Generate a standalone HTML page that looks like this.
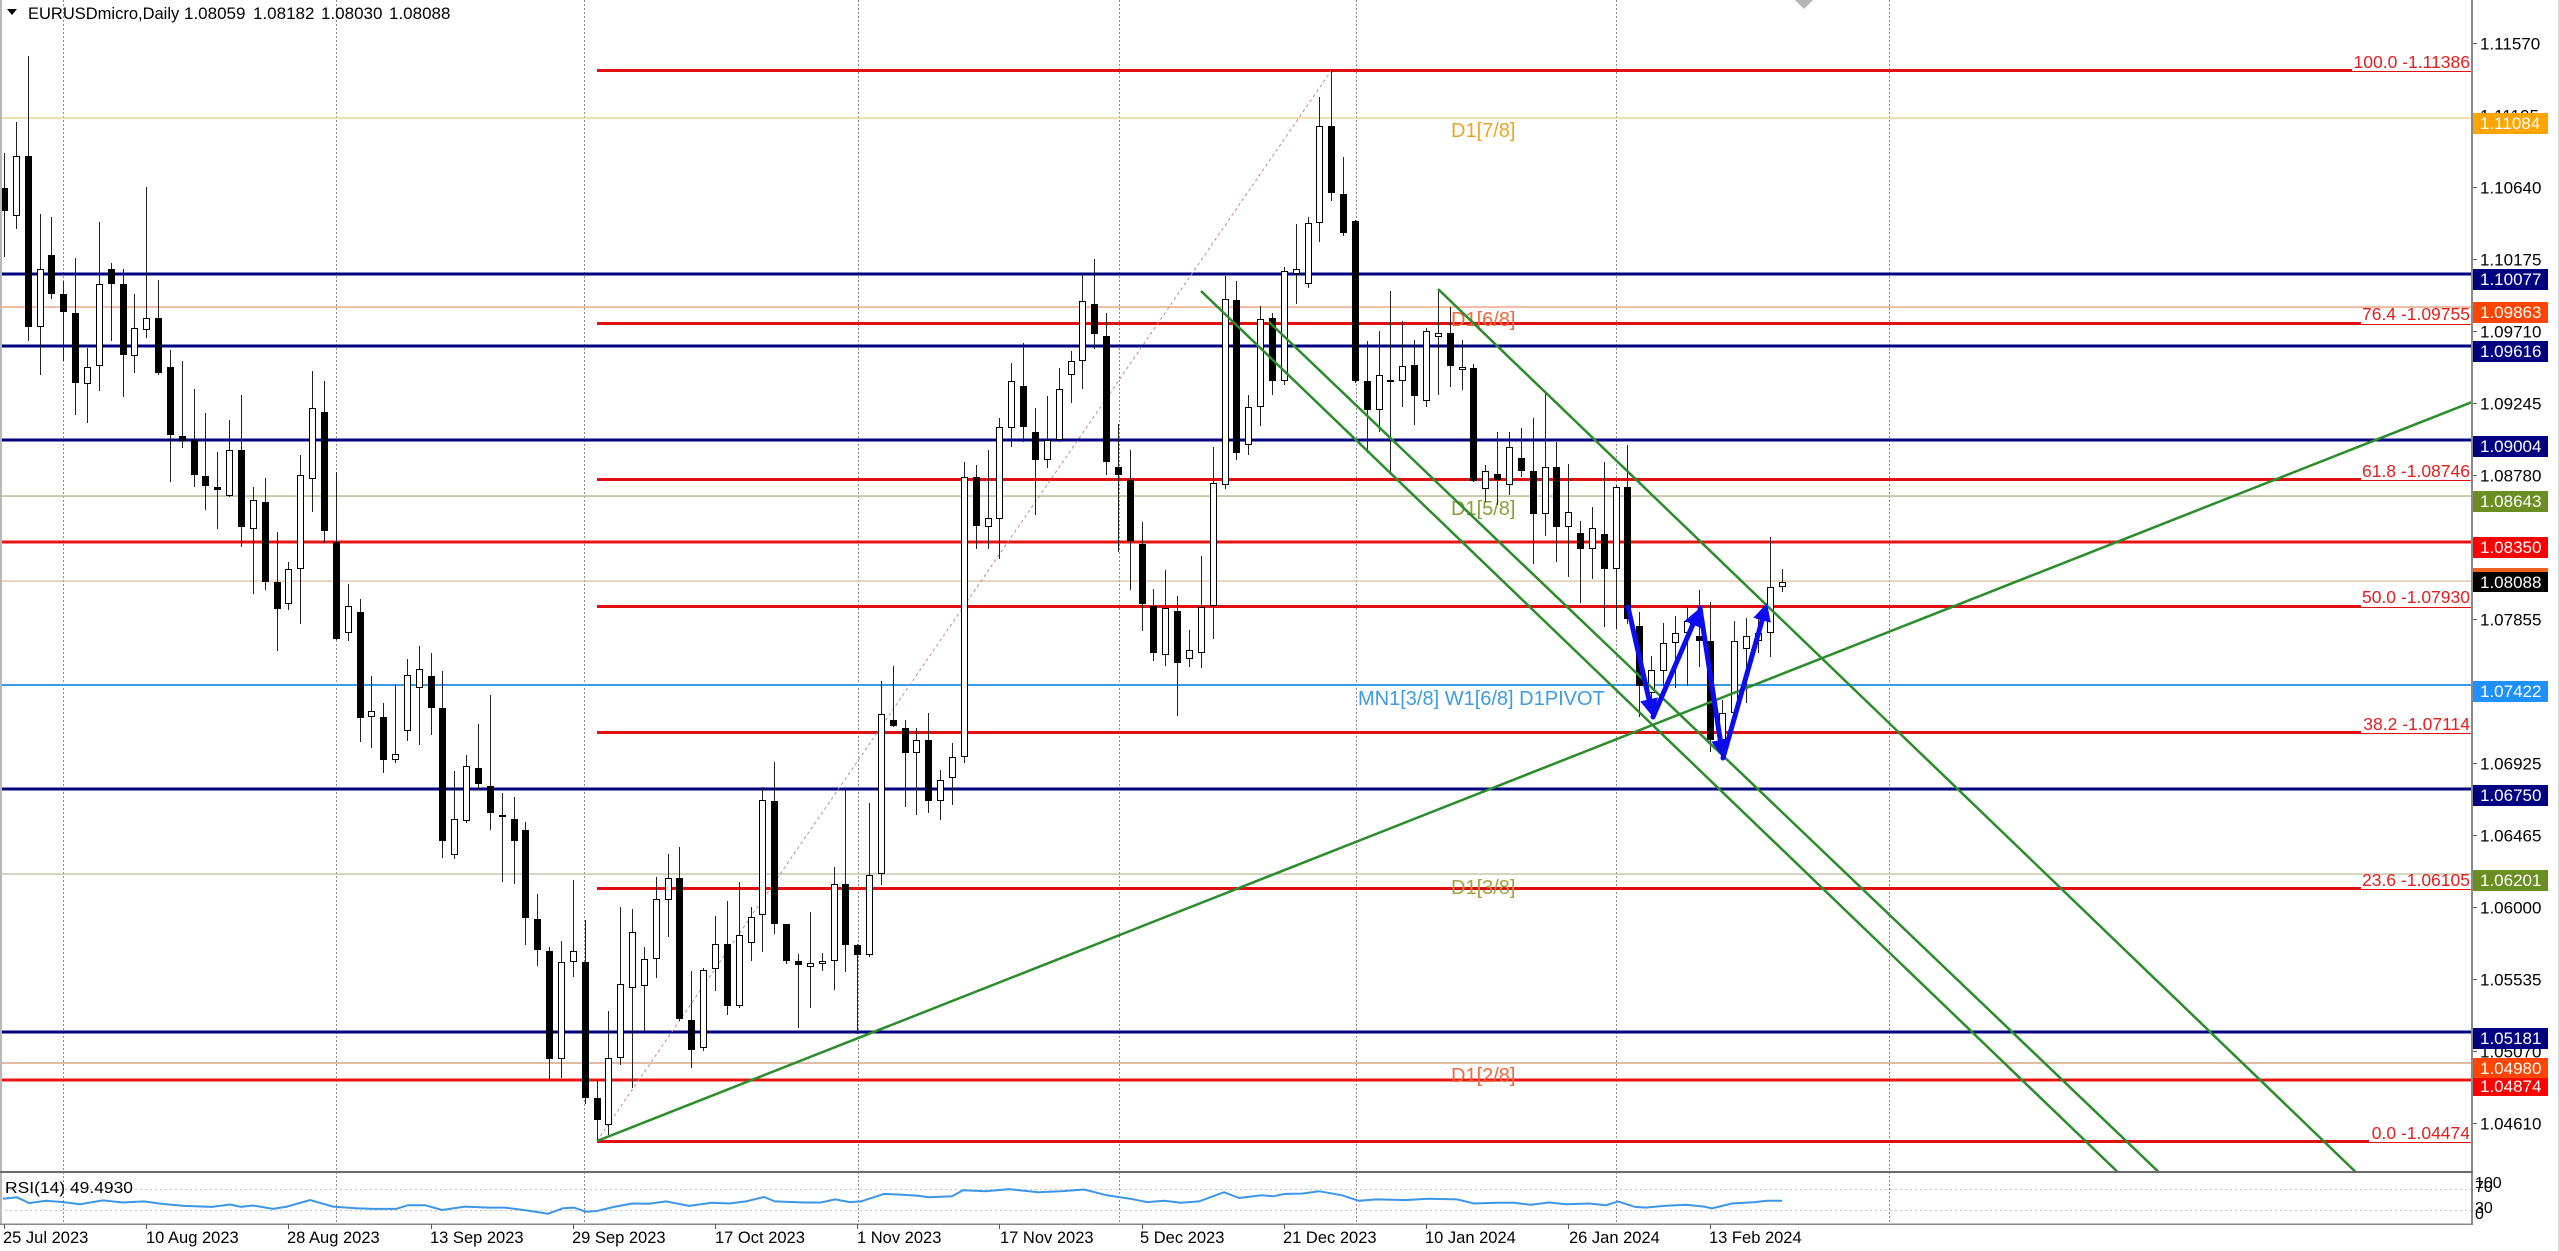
<!DOCTYPE html>
<html><head><meta charset="utf-8"><style>
html,body{margin:0;padding:0;background:#fff;}
svg{display:block;}
text{font-family:"Liberation Sans",Arial,sans-serif;}
</style></head><body>
<svg width="2560" height="1251" viewBox="0 0 2560 1251" xmlns="http://www.w3.org/2000/svg">
<rect width="2560" height="1251" fill="#fff"/>
<defs><clipPath id="c"><rect x="0" y="0" width="2472" height="1171"/></clipPath></defs>

<!-- vertical dashed grid -->
<path d="M63.5 0V1224M336.5 0V1224M584.5 0V1224M858.5 0V1224M1119.5 0V1224M1356.5 0V1224M1616.5 0V1224M1889.5 0V1224" stroke="#8c8c8c" stroke-width="1" stroke-dasharray="2,2" fill="none"/>

<!-- thin horizontal lines -->
<rect x="0" y="117.3" width="2472" height="1.5" fill="#ead592"/>
<rect x="0" y="306.3" width="2472" height="1.5" fill="#eca888"/>
<rect x="0" y="495.3" width="2472" height="1.5" fill="#b8bc90"/>
<rect x="0" y="580.5" width="2472" height="1.2" fill="#e0b898"/>
<rect x="0" y="684" width="2472" height="2" fill="#3a9ae8"/>
<rect x="0" y="873.3" width="2472" height="1.5" fill="#c8c8a8"/>
<rect x="0" y="1062" width="2472" height="2" fill="#e0bca4"/>
<!-- navy lines -->
<g fill="#000080">
<rect x="0" y="272.5" width="2472" height="3"/>
<rect x="0" y="344.5" width="2472" height="3"/>
<rect x="0" y="438.5" width="2472" height="3"/>
<rect x="0" y="787.5" width="2472" height="3"/>
<rect x="0" y="1030.5" width="2472" height="3"/>
</g>
<!-- full red lines -->
<g fill="#e81414">
<rect x="0" y="540.5" width="2472" height="3"/>
<rect x="0" y="1078.5" width="2472" height="3"/>
</g>
<!-- fib levels -->
<g fill="#e01010">
<rect x="597" y="69" width="1755" height="3"/><rect x="2352" y="71" width="120" height="1"/>
<rect x="597" y="322" width="1764" height="3"/><rect x="2361" y="324" width="111" height="1"/>
<rect x="597" y="478" width="1764" height="3"/><rect x="2361" y="480" width="111" height="1"/>
<rect x="597" y="605" width="1764" height="3"/><rect x="2361" y="607" width="111" height="1"/>
<rect x="597" y="731" width="1764" height="3"/><rect x="2361" y="733" width="111" height="1"/>
<rect x="597" y="887" width="1764" height="3"/><rect x="2361" y="889" width="111" height="1"/>
<rect x="597" y="1140" width="1772" height="3"/><rect x="2369" y="1142" width="103" height="1"/>
</g>
<g font-size="17.5" fill="#e02020" text-anchor="end">
<text x="2470" y="68">100.0 -1.11386</text>
<text x="2470" y="320">76.4 -1.09755</text>
<text x="2470" y="477">61.8 -1.08746</text>
<text x="2470" y="603">50.0 -1.07930</text>
<text x="2470" y="730">38.2 -1.07114</text>
<text x="2470" y="886">23.6 -1.06105</text>
<text x="2470" y="1139">0.0 -1.04474</text>
</g>

<!-- fib dotted trend -->
<line x1="597" y1="1141" x2="1331" y2="71" stroke="#c48888" stroke-width="1" stroke-dasharray="3,3"/>

<!-- chart labels -->
<g font-size="20">
<text x="1451" y="137" fill="#e8a628">D1[7/8]</text>
<text x="1451" y="326" fill="#f06a3a">D1[6/8]</text>
<text x="1451" y="515" fill="#8c9c3c">D1[5/8]</text>
<text x="1451" y="894" fill="#a8a040">D1[3/8]</text>
<text x="1451" y="1082" fill="#f06a3a">D1[2/8]</text>
<text x="1358" y="705" fill="#3d9be0">MN1[3/8] W1[6/8] D1PIVOT</text>
</g>

<!-- candles: wicks -->
<path stroke="#222" stroke-width="1" fill="none" d="M4.5 153V257M16.5 122V229M28.5 56V341M40.5 214V375M51.5 217V299M63.5 281V361M75.5 258V415M87.5 348V423M99.5 222V391M111.5 263V341M123.5 269V397M134.5 294V373M146.5 187V338M158.5 280V375M170.5 350V482M182.5 361V448M194.5 389V487M205.5 413V510M217.5 452V529M229.5 420V497M241.5 395V547M253.5 487V594M265.5 478V590M277.5 532V651M288.5 562V610M300.5 455V624M312.5 371V512M324.5 381V543M336.5 472V640M348.5 584V641M360.5 599V742M371.5 676V748M383.5 703V773M395.5 685V763M407.5 659V741M419.5 646V745M431.5 653V735M442.5 671V858M454.5 771V859M466.5 755V823M478.5 724V790M490.5 695V830M502.5 793V882M514.5 797V884M525.5 822V945M537.5 894V966M549.5 947V1079M561.5 941V1078M573.5 880V977M585.5 920V1104M597.5 1080V1142M608.5 1011V1135M620.5 907V1065M632.5 909V1088M644.5 947V1031M656.5 877V978M668.5 854V937M679.5 847V1021M691.5 971V1068M703.5 968V1051M715.5 916V991M727.5 901V1015M739.5 882V1008M751.5 907V961M762.5 787V952M774.5 762V934M786.5 924V964M798.5 954V1028M810.5 912V1008M822.5 953V971M834.5 867V990M845.5 790V972M857.5 944V1034M869.5 803V957M881.5 681V885M893.5 666V727M905.5 720V807M916.5 728V815M928.5 713V813M940.5 770V820M952.5 743V805M964.5 462V763M976.5 465V549M988.5 450V549M999.5 418V559M1011.5 363V447M1023.5 343V442M1035.5 408V515M1047.5 396V468M1059.5 368V442M1071.5 351V403M1082.5 274V389M1094.5 259V349M1106.5 313V475M1118.5 424V552M1130.5 450V590M1142.5 522V631M1153.5 589V661M1165.5 570V666M1177.5 596V716M1189.5 630V667M1201.5 556V668M1213.5 447V639M1225.5 276V489M1236.5 281V460M1248.5 395V455M1260.5 306V426M1272.5 313V395M1284.5 267V385M1296.5 224V304M1308.5 217V288M1319.5 97V242M1331.5 71V201M1343.5 157V236M1355.5 220V383M1367.5 341V453M1379.5 331V432M1390.5 291V475M1402.5 321V407M1414.5 340V425M1426.5 328V407M1438.5 291V395M1450.5 307V387M1462.5 340V390M1473.5 364V482M1485.5 465V502M1497.5 432V505M1509.5 432V495M1521.5 428V477M1533.5 418V564M1545.5 394V536M1556.5 442V562M1568.5 464V577M1580.5 521V603M1592.5 507V579M1604.5 462V627M1616.5 485V629M1627.5 445V624M1639.5 612V717M1651.5 656V716M1663.5 623V686M1675.5 616V688M1687.5 607V686M1699.5 590V667M1710.5 602V752M1722.5 700V757M1734.5 621V723M1746.5 618V703M1758.5 619V653M1770.5 537V657M1782.5 569V592"/>
<!-- black bodies -->
<path fill="#000" d="M1 188h7v23h-7zM25 156h7v171h-7zM48 255h7v39h-7zM60 294h7v18h-7zM72 313h7v70h-7zM108 269h7v15h-7zM120 284h7v71h-7zM155 318h7v55h-7zM167 367h7v68h-7zM179 436h7v5h-7zM191 440h7v35h-7zM202 476h7v10h-7zM214 487h7v3h-7zM238 450h7v77h-7zM262 502h7v80h-7zM274 582h7v27h-7zM321 412h7v119h-7zM333 542h7v97h-7zM357 612h7v106h-7zM380 717h7v43h-7zM428 676h7v32h-7zM439 708h7v133h-7zM475 768h7v16h-7zM487 786h7v27h-7zM499 815h7v2h-7zM511 819h7v22h-7zM522 830h7v88h-7zM534 919h7v31h-7zM546 951h7v108h-7zM582 962h7v136h-7zM594 1098h7v22h-7zM676 878h7v141h-7zM688 1020h7v30h-7zM724 944h7v62h-7zM771 801h7v123h-7zM783 924h7v37h-7zM795 961h7v4h-7zM842 884h7v61h-7zM854 945h7v10h-7zM890 720h7v6h-7zM902 728h7v25h-7zM925 740h7v61h-7zM973 477h7v49h-7zM1020 386h7v41h-7zM1032 432h7v28h-7zM1091 304h7v30h-7zM1103 336h7v126h-7zM1115 467h7v8h-7zM1127 480h7v61h-7zM1139 544h7v60h-7zM1150 606h7v47h-7zM1174 611h7v52h-7zM1233 300h7v153h-7zM1269 318h7v63h-7zM1328 126h7v67h-7zM1340 194h7v39h-7zM1352 221h7v160h-7zM1364 381h7v29h-7zM1387 380h7v2h-7zM1411 365h7v31h-7zM1447 333h7v33h-7zM1470 368h7v113h-7zM1494 474h7v6h-7zM1518 458h7v13h-7zM1530 471h7v43h-7zM1553 467h7v60h-7zM1577 533h7v16h-7zM1601 534h7v35h-7zM1624 487h7v132h-7zM1636 626h7v60h-7zM1696 636h7v5h-7zM1707 641h7v99h-7z"/>
<!-- white bodies -->
<path fill="#fff" stroke="#000" stroke-width="1" d="M13.5 156.5h6v59h-6zM37.5 269.5h6v57h-6zM84.5 367.5h6v16h-6zM96.5 284.5h6v81h-6zM131.5 328.5h6v27h-6zM143.5 318.5h6v11h-6zM226.5 450.5h6v45h-6zM250.5 500.5h6v28h-6zM285.5 569.5h6v34h-6zM297.5 475.5h6v93h-6zM309.5 408.5h6v70h-6zM345.5 606.5h6v26h-6zM368.5 711.5h6v5h-6zM392.5 754.5h6v5h-6zM404.5 675.5h6v55h-6zM416.5 669.5h6v18h-6zM451.5 819.5h6v35h-6zM463.5 766.5h6v54h-6zM558.5 962.5h6v96h-6zM570.5 951.5h6v10h-6zM605.5 1058.5h6v66h-6zM617.5 984.5h6v73h-6zM629.5 932.5h6v55h-6zM641.5 959.5h6v26h-6zM653.5 899.5h6v59h-6zM665.5 878.5h6v21h-6zM700.5 970.5h6v77h-6zM712.5 944.5h6v24h-6zM736.5 935.5h6v70h-6zM748.5 917.5h6v25h-6zM759.5 800.5h6v114h-6zM807.5 963.5h6v3h-6zM819.5 961.5h6v2h-6zM831.5 884.5h6v76h-6zM866.5 875.5h6v79h-6zM878.5 714.5h6v159h-6zM913.5 740.5h6v12h-6zM937.5 780.5h6v20h-6zM949.5 757.5h6v20h-6zM961.5 477.5h6v279h-6zM985.5 518.5h6v8h-6zM996.5 427.5h6v91h-6zM1008.5 381.5h6v46h-6zM1044.5 440.5h6v19h-6zM1056.5 389.5h6v50h-6zM1068.5 361.5h6v13h-6zM1079.5 301.5h6v59h-6zM1162.5 608.5h6v46h-6zM1186.5 650.5h6v8h-6zM1198.5 607.5h6v45h-6zM1210.5 483.5h6v122h-6zM1222.5 299.5h6v185h-6zM1245.5 407.5h6v37h-6zM1257.5 319.5h6v87h-6zM1281.5 271.5h6v109h-6zM1293.5 269.5h6v4h-6zM1305.5 223.5h6v60h-6zM1316.5 126.5h6v96h-6zM1376.5 375.5h6v34h-6zM1399.5 366.5h6v14h-6zM1423.5 331.5h6v69h-6zM1435.5 333.5h6v3h-6zM1459.5 367.5h6v2h-6zM1482.5 471.5h6v17h-6zM1506.5 447.5h6v37h-6zM1542.5 467.5h6v46h-6zM1565.5 512.5h6v14h-6zM1589.5 528.5h6v20h-6zM1613.5 487.5h6v81h-6zM1648.5 670.5h6v22h-6zM1660.5 643.5h6v27h-6zM1672.5 633.5h6v9h-6zM1684.5 621.5h6v11h-6zM1719.5 713.5h6v26h-6zM1731.5 641.5h6v71h-6zM1743.5 636.5h6v12h-6zM1755.5 633.5h6v7h-6zM1767.5 587.5h6v45h-6zM1779.5 582.5h6v4h-6z"/>

<!-- green trend / channel lines -->
<g clip-path="url(#c)" stroke="#2a8c2a" stroke-width="2.5" fill="none">
<line x1="597" y1="1141" x2="2472" y2="402"/>
<line x1="1201" y1="291" x2="2126" y2="1180"/>
<line x1="1269" y1="322" x2="2167" y2="1180"/>
<line x1="1438" y1="289" x2="2364" y2="1180"/>
</g>

<!-- blue zigzag arrows -->
<g stroke="#0c0cf0" stroke-width="5" fill="none" stroke-linecap="round">
<path d="M1628 607L1649 699.4"/>
<path d="M1653 717L1692.9 624.5"/>
<path d="M1700 608L1720.3 740.2"/>
<path d="M1723 758L1762.1 620.3"/>
</g>
<g fill="#0c0cf0">
<polygon points="1653,717 1640.2,701.4 1657.8,697.4"/>
<polygon points="1700,608 1701.2,628.1 1684.6,620.9"/>
<polygon points="1723,758 1711.4,741.6 1729.2,738.8"/>
<polygon points="1767,603 1770.8,622.8 1753.4,617.8"/>
</g>

<!-- title -->
<polygon points="7,9 17,9 12,15" fill="#000"/>
<text x="28" y="19" font-size="16.5" fill="#000">EURUSDmicro,Daily</text>
<text x="184" y="19" font-size="17" fill="#000">1.08059</text>
<text x="253" y="19" font-size="17" fill="#000">1.08182</text>
<text x="321" y="19" font-size="17" fill="#000">1.08030</text>
<text x="389" y="19" font-size="17" fill="#000">1.08088</text>

<!-- shift marker -->
<polygon points="1795,0 1813,0 1804,9" fill="#b4b4b4"/>

<!-- left border -->
<rect x="0" y="0" width="2" height="1224" fill="#b8b8b8"/>

<!-- right axis -->
<rect x="2473" y="0" width="87" height="1251" fill="#fff"/>
<rect x="2471" y="0" width="2" height="1225" fill="#8a8a8a"/>
<rect x="2558" y="0" width="2" height="1251" fill="#d8d8d8"/>
<path stroke="#666" stroke-width="1" d="M2473 43.5h4M2473 115.5h4M2473 187.5h4M2473 259.5h4M2473 331.5h4M2473 403.5h4M2473 475.5h4M2473 547.5h4M2473 619.5h4M2473 691.5h4M2473 763.5h4M2473 835.5h4M2473 907.5h4M2473 979.5h4M2473 1051.5h4M2473 1123.5h4"/>
<g font-size="17" fill="#000">
<text x="2480" y="49.5">1.11570</text>
<text x="2480" y="121.5">1.11105</text>
<text x="2480" y="193.5">1.10640</text>
<text x="2480" y="265.5">1.10175</text>
<text x="2480" y="337.5">1.09710</text>
<text x="2480" y="409.5">1.09245</text>
<text x="2480" y="481.5">1.08780</text>
<text x="2480" y="553.5">1.08315</text>
<text x="2480" y="625.5">1.07855</text>
<text x="2480" y="697.5">1.07390</text>
<text x="2480" y="769.5">1.06925</text>
<text x="2480" y="841.5">1.06465</text>
<text x="2480" y="913.5">1.06000</text>
<text x="2480" y="985.5">1.05535</text>
<text x="2480" y="1057.5">1.05070</text>
<text x="2480" y="1129.5">1.04610</text>
</g>
<!-- price tags -->
<rect x="2473" y="113" width="75" height="21" fill="#FFA500"/>
<rect x="2473" y="269" width="75" height="21" fill="#000080"/>
<rect x="2473" y="302" width="75" height="21" fill="#FF4500"/>
<rect x="2473" y="341" width="75" height="21" fill="#000080"/>
<rect x="2473" y="436" width="75" height="21" fill="#000080"/>
<rect x="2473" y="491" width="75" height="21" fill="#6B8E23"/>
<rect x="2473" y="537" width="75" height="21" fill="#FF0000"/>
<rect x="2473" y="568" width="75" height="4" fill="#f06020"/>
<rect x="2473" y="572" width="75" height="20" fill="#000"/>
<rect x="2473" y="681" width="75" height="21" fill="#1E90FF"/>
<rect x="2473" y="785" width="75" height="21" fill="#000080"/>
<rect x="2473" y="870" width="75" height="21" fill="#6B8E23"/>
<rect x="2473" y="1028" width="75" height="21" fill="#000080"/>
<rect x="2473" y="1058" width="75" height="21" fill="#FF4500"/>
<rect x="2473" y="1078" width="75" height="18" fill="#FF0000"/>
<g font-size="17" fill="#fff">
<text x="2480" y="129">1.11084</text>
<text x="2480" y="285">1.10077</text>
<text x="2480" y="318">1.09863</text>
<text x="2480" y="357">1.09616</text>
<text x="2480" y="452">1.09004</text>
<text x="2480" y="507">1.08643</text>
<text x="2480" y="553">1.08350</text>
<text x="2480" y="588">1.08088</text>
<text x="2480" y="697">1.07422</text>
<text x="2480" y="801">1.06750</text>
<text x="2480" y="886">1.06201</text>
<text x="2480" y="1044">1.05181</text>
<text x="2480" y="1074">1.04980</text>
<text x="2480" y="1092">1.04874</text>
</g>

<!-- RSI panel -->
<rect x="0" y="1171" width="2473" height="2" fill="#6a6a6a"/>
<rect x="0" y="1223.5" width="2473" height="1.5" fill="#8a8a8a"/>
<path d="M0 1189.5H2471M0 1210.5H2471" stroke="#c4c4c4" stroke-width="1" stroke-dasharray="2,3"/>
<polyline fill="none" stroke="#3c96e6" stroke-width="2" points="3,1198.7 17,1197.3 29,1203.1 46,1200.8 63,1202.1 80,1204.2 103,1200.4 123,1202.5 144,1201.4 161,1203.8 184,1205.9 212,1206.9 230,1204.5 241,1206.9 253,1205.5 273,1208.9 287,1206.6 310,1200.1 333,1206.6 356,1208.3 373,1208.9 396,1208.9 408,1205.2 425,1205.2 442,1210 465,1206.6 488,1207.6 505,1207.6 528,1210.6 548,1213.7 563,1208.3 574,1207.6 586,1211.7 597,1211 614,1206.9 632,1203.5 649,1203.8 666,1201.4 689,1205.9 712,1202.8 729,1203.5 746,1201.4 764,1197 775,1201.4 804,1202.5 821,1202.5 835,1199.4 850,1202.1 861,1201.4 884,1193.9 900,1194.6 917,1195.6 929,1197.3 952,1196.3 963,1190.2 986,1191.2 1009,1189.1 1038,1192.2 1061,1191.2 1084,1189.5 1107,1195.3 1130,1198.7 1147,1202.1 1164,1200.8 1181,1202.8 1199,1201.4 1224,1192.2 1239,1198 1262,1195.3 1273,1196.3 1285,1193.9 1302,1193.6 1319,1191.2 1342,1195.3 1359,1200.8 1376,1199.4 1405,1200.1 1428,1198.7 1457,1199.4 1474,1203.5 1497,1202.8 1514,1202.8 1531,1204.8 1549,1202.5 1566,1204.2 1589,1203.5 1606,1205.2 1618,1201.4 1635,1206.9 1646,1207.6 1664,1205.9 1686,1204.8 1704,1206.6 1712,1208.3 1732,1203.5 1755,1202.1 1767,1200.8 1782,1200.8"/>
<text x="5" y="1193" font-size="16" fill="#000" textLength="128" lengthAdjust="spacingAndGlyphs">RSI(14) 49.4930</text>
<g font-size="16" fill="#000">
<text x="2475" y="1188">100</text>
<text x="2475" y="1192">70</text>
<text x="2475" y="1213">30</text>
<text x="2475" y="1219">0</text>
</g>

<!-- date axis -->
<path stroke="#555" stroke-width="1" d="M4.5 1224V1229M146.5 1224V1229M288.5 1224V1229M431.5 1224V1229M573.5 1224V1229M715.5 1224V1229M857.5 1224V1229M999.5 1224V1229M1142.5 1224V1229M1284.5 1224V1229M1426.5 1224V1229M1568.5 1224V1229M1710.5 1224V1229"/>
<g font-size="16.5" fill="#000">
<text x="3" y="1243">25 Jul 2023</text>
<text x="146" y="1243">10 Aug 2023</text>
<text x="287" y="1243">28 Aug 2023</text>
<text x="430" y="1243">13 Sep 2023</text>
<text x="572" y="1243">29 Sep 2023</text>
<text x="715" y="1243">17 Oct 2023</text>
<text x="857" y="1243">1 Nov 2023</text>
<text x="1000" y="1243">17 Nov 2023</text>
<text x="1140" y="1243">5 Dec 2023</text>
<text x="1283" y="1243">21 Dec 2023</text>
<text x="1425" y="1243">10 Jan 2024</text>
<text x="1569" y="1243">26 Jan 2024</text>
<text x="1709" y="1243">13 Feb 2024</text>
</g>
</svg>
</body></html>
